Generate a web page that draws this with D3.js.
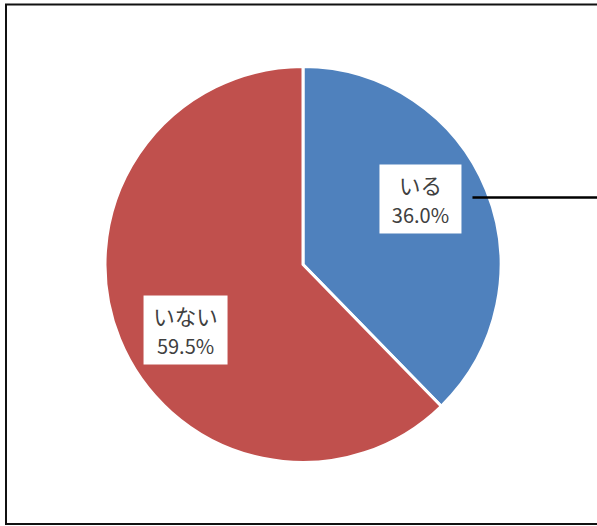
<!DOCTYPE html>
<html><head><meta charset="utf-8">
<script src="https://cdn.jsdelivr.net/npm/d3@7"></script>
<style>html,body{margin:0;padding:0;background:#fff;}svg{display:block;}</style>
</head><body>
<svg id="c" width="597" height="526"></svg>
<script>
const categories = ["いる", "いない"];
const values = [36.0, 59.5];
const colors = ["#4F81BD", "#C0504D"];

const svg = d3.select("#c");
svg.append("rect").attr("x", 6).attr("y", 4.5).attr("width", 640).attr("height", 519.5)
  .attr("fill", "#fff").attr("stroke", "#111").attr("stroke-width", 2);

const cx = 303, cy = 264.5, R = 198;
const g = svg.append("g").attr("transform", `translate(${cx},${cy})`);
const data = categories.map((c, i) => ({ name: c, value: values[i], color: colors[i] }));
const pie = d3.pie().value(d => d.value).sort(null);
const arcs = pie(data);
const arc = d3.arc().innerRadius(0).outerRadius(R);
g.selectAll("path.slice").data(arcs).join("path").attr("class", "slice")
  .attr("d", arc).attr("fill", d => d.data.color)
  .attr("stroke", "#fff").attr("stroke-width", 3).attr("stroke-linejoin", "round");

const labelR = 134.5, shift = -7 * Math.PI / 180;
const font = "'Noto Sans CJK JP', 'Noto Sans', sans-serif";
arcs.forEach((a, i) => {
  const ang = (a.startAngle + a.endAngle) / 2 + shift;
  const lx = Math.sin(ang) * labelR, ly = -Math.cos(ang) * labelR;
  const fmt = d3.format(".1f")(a.data.value) + "%";
  const lg = g.append("g").attr("transform", `translate(${lx},${ly})`);
  const bw = i === 0 ? 82 : 84, bh = 69;
  if (i === 0) {
    lg.append("line").attr("x1", bw / 2 + 11).attr("x2", 400).attr("y1", -1.5).attr("y2", -1.5)
      .attr("stroke", "#000").attr("stroke-width", 2.5);
  }
  lg.append("rect").attr("x", -bw / 2).attr("y", -bh / 2).attr("width", bw).attr("height", bh).attr("fill", "#fff");
  lg.append("text").attr("x", 0).attr("y", -5).attr("text-anchor", "middle")
    .attr("font-family", font).attr("font-size", 21.5).attr("fill", "#404040").text(a.data.name);
  lg.append("text").attr("x", 0).attr("y", 24).attr("text-anchor", "middle")
    .attr("font-family", font).attr("font-size", 20).attr("fill", "#404040").text(fmt);
});
</script>
</body></html>
